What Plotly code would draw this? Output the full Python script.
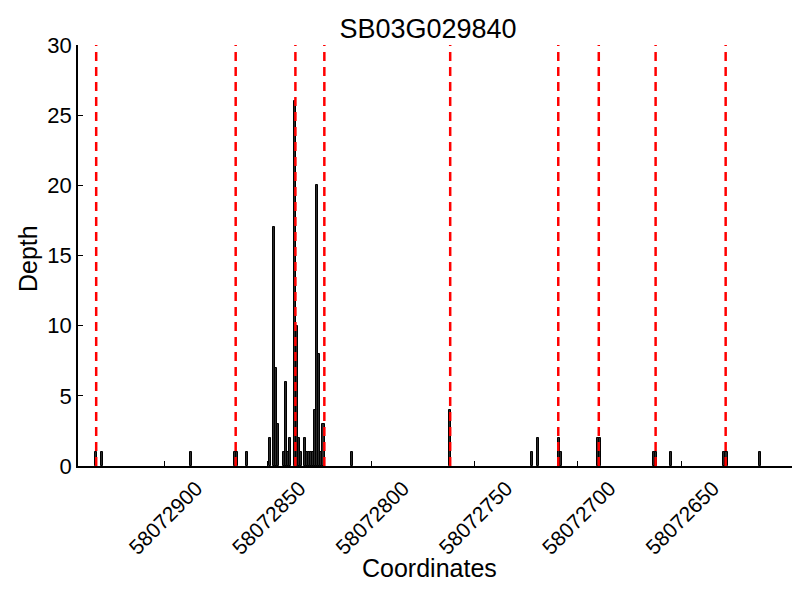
import plotly.graph_objects as go

title = "SB03G029840"
positions = [58072933, 58072930, 58072887, 58072866, 58072865, 58072860,
             58072849, 58072847, 58072846, 58072845, 58072842, 58072841, 58072840,
             58072839, 58072837, 58072836, 58072835, 58072834, 58072832, 58072831,
             58072830, 58072829, 58072828, 58072827, 58072826, 58072825, 58072824,
             58072823, 58072809, 58072762, 58072722, 58072719, 58072709, 58072708,
             58072690, 58072689, 58072663, 58072662, 58072655, 58072629, 58072628,
             58072612]
depths = [1, 1, 1, 1, 1, 1,
          2, 17, 7, 3, 1, 6, 1,
          2, 26, 10, 2, 1, 2, 1,
          1, 1, 1, 4, 20, 8, 1,
          3, 1, 4, 1, 2, 2, 1,
          2, 2, 1, 1, 1, 1, 1,
          1]
exon_bounds = [58072933, 58072865.5, 58072836.6, 58072822.6, 58072761.7,
               58072709.4, 58072689.8, 58072662.3, 58072628.4]
x_ticks = [58072900, 58072850, 58072800, 58072750, 58072700, 58072650]
y_ticks = [0, 5, 10, 15, 20, 25, 30]
x_range = [58072941.8, 58072596.3]
y_range = [0, 30]

FONT = "Liberation Sans, Arial, sans-serif"

fig = go.Figure()
fig.add_trace(go.Bar(
    x=positions, y=depths, width=1,
    marker=dict(color="#2a2a2a", line=dict(color="black", width=1)),
    showlegend=False,
))
for xb in exon_bounds:
    fig.add_shape(type="line", x0=xb, x1=xb, y0=y_range[0], y1=y_range[1],
                  xref="x", yref="y", layer="above",
                  line=dict(color="#ff0000", width=2.5, dash="9px,6px"))

fig.add_annotation(text="Coordinates", xref="paper", yref="paper",
                   x=(429 - 78) / 714, y=-(568 - 466) / 421,
                   xanchor="center", yanchor="middle", showarrow=False,
                   font=dict(family=FONT, size=25, color="black"))
fig.add_annotation(text="Depth", xref="paper", yref="paper",
                   x=-(78 - 28) / 714, y=(466 - 259) / 421, textangle=-90,
                   xanchor="center", yanchor="middle", showarrow=False,
                   font=dict(family=FONT, size=25, color="black"))

fig.update_layout(
    width=800, height=600,
    margin=dict(l=78, r=8, t=45, b=134),
    plot_bgcolor="white", paper_bgcolor="white",
    bargap=0,
    title=dict(text=title, x=0.535, xanchor="center", y=0.953, yanchor="middle",
               font=dict(family=FONT, size=27, color="black")),
    font=dict(family=FONT, color="black"),
)
fig.update_xaxes(
    range=x_range, tickvals=x_ticks, ticktext=[str(v) for v in x_ticks],
    tickangle=-45, tickfont=dict(size=21), ticks="inside", ticklen=5,
    ticklabelshift=-32, ticklabelstandoff=0,
    tickcolor="black", showline=True, linecolor="black", linewidth=1.5,
    showgrid=False, zeroline=False, automargin=False,
)
fig.update_yaxes(
    range=y_range, tickvals=y_ticks, tickfont=dict(size=22), ticks="inside",
    ticklen=5, tickcolor="black", showline=True, linecolor="black", linewidth=1.5,
    showgrid=False, zeroline=False, automargin=False,
)
fig.write_html("out.html", post_script="document.body.style.margin='0px';",
               config={"displayModeBar": False})
